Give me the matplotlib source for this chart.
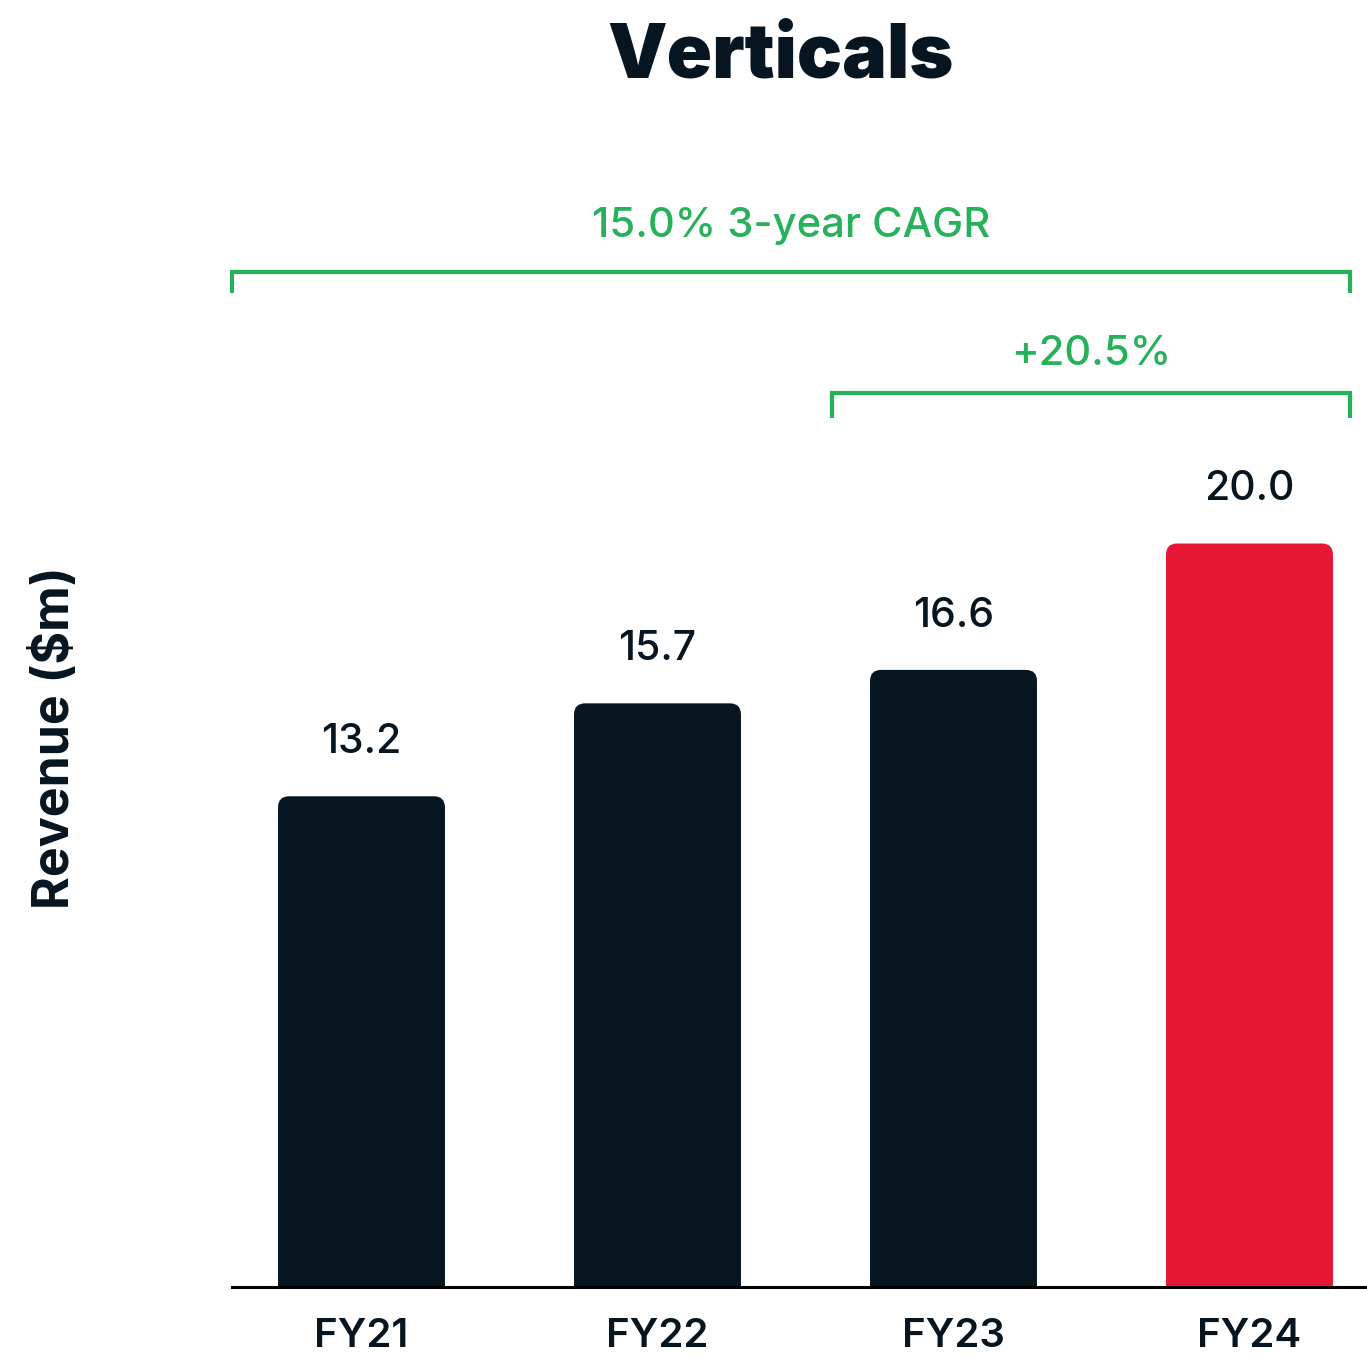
import matplotlib
matplotlib.use("Agg")
import matplotlib.pyplot as plt
from matplotlib.patches import FancyBboxPatch

categories = ["FY21", "FY22", "FY23", "FY24"]
revenue = [13.2, 15.7, 16.6, 20.0]
value_labels = ["13.2", "15.7", "16.6", "20.0"]
cagr_label = "15.0% 3-year CAGR"
yoy_label = "+20.5%"
title = "Verticals"
ylabel = "Revenue ($m)"

DARK = "#061520"
RED = "#E81635"
GREEN = "#27B15A"
FONT = "Inter"

W, H = 1367, 1355
fig = plt.figure(figsize=(W / 100, H / 100), dpi=100)
ax = fig.add_axes([232 / W, (H - 1287) / H, 1 - 232 / W, 1287 / H])

ymax = 34.62
ax.set_xlim(-0.4375, 3.397)
ax.set_ylim(0, ymax)

colors = [DARK, DARK, DARK, RED]
bars = ax.bar(range(len(categories)), revenue, width=0.564, color=colors)

# px per data unit
px_x = (W - 232) / (3.397 + 0.4375)
px_y = 1287 / ymax
r_px = 11
for i, b in enumerate(bars):
    b.set_visible(False)
    x0, w, h = b.get_x(), b.get_width(), b.get_height()
    rx = r_px / px_x
    p = FancyBboxPatch((x0, -2), w, h + 2,
                       boxstyle=f"round,pad=0,rounding_size={rx}",
                       mutation_aspect=px_x / px_y,
                       facecolor=b.get_facecolor(), edgecolor="none",
                       clip_on=True)
    ax.add_patch(p)
    ax.annotate(value_labels[i], (x0 + w / 2, h),
                xytext=(0, 31), textcoords="offset points",
                ha="center", va="baseline", fontsize=29.5,
                fontfamily=FONT, fontweight="medium", color=DARK)

for s in ["top", "right", "left"]:
    ax.spines[s].set_visible(False)
ax.spines["bottom"].set_linewidth(2.2)
ax.spines["bottom"].set_color("#000000")
ax.set_yticks([])
ax.set_xticks(range(len(categories)))
ax.set_xticklabels(categories, fontsize=29, fontfamily=FONT,
                   fontweight="semibold", color=DARK)
ax.tick_params(axis="x", length=0, pad=22)

# brackets
def bracket(x0, x1, y, drop, label, ty):
    ax.plot([x0, x0, x1, x1], [y - drop, y, y, y - drop], color=GREEN,
            lw=3, solid_joinstyle="miter", solid_capstyle="butt", clip_on=False)
    ax.text((x0 + x1) / 2, ty, label, ha="center", va="center",
            fontsize=30, fontfamily=FONT, fontweight="medium", color=GREEN)

bracket(-0.4375, 3.34, 27.31, 0.57, cagr_label, 28.55)
bracket(1.59, 3.34, 24.05, 0.67, yoy_label, 25.1)

fig.text(781 / W, 1 - 78 / H, title, ha="center", va="baseline",
         fontsize=54, fontfamily=FONT, fontweight="black", color=DARK)
fig.text(55 / W, 1 - 738 / H, ylabel, ha="center", va="center", rotation=90,
         fontsize=36, fontfamily=FONT, fontweight="bold", color=DARK)

fig.savefig("out.png", dpi=100, facecolor="white")
